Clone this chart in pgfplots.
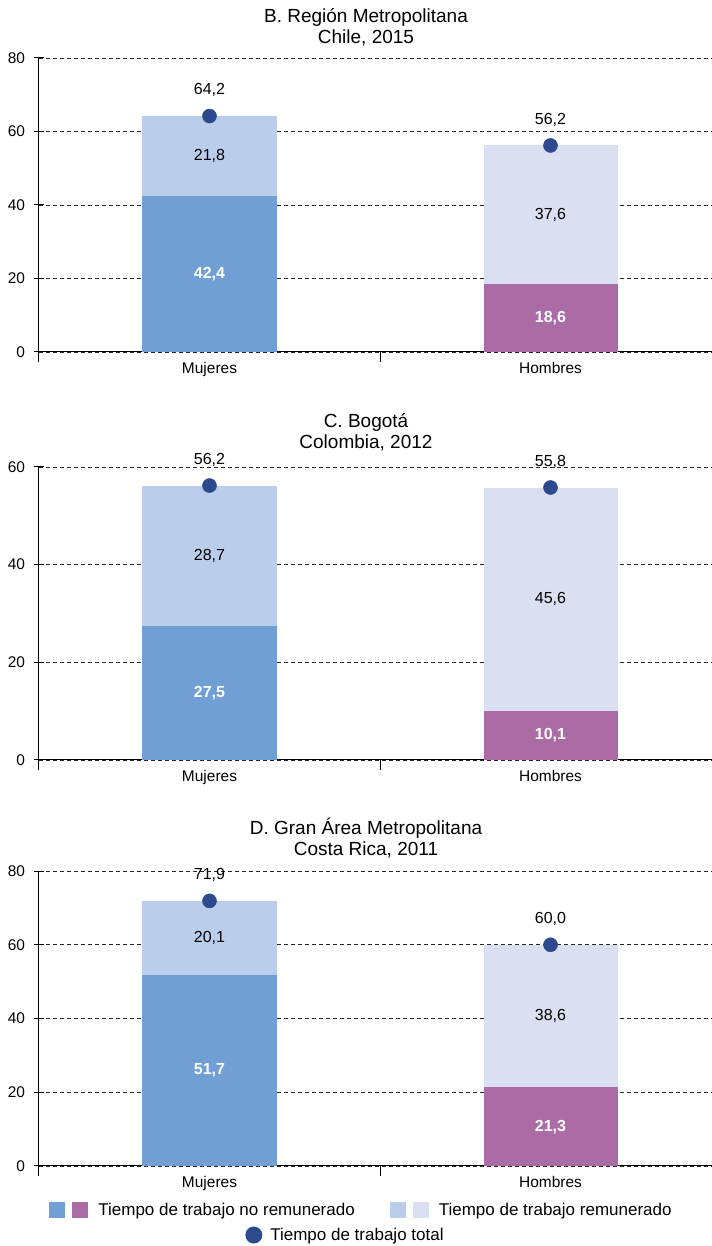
\documentclass[border=0pt]{standalone}
\usepackage{pgfplots}
\pgfplotsset{compat=1.18}
\usepackage{fontspec}
\setmainfont{Liberation Sans}
\definecolor{cMu}{HTML}{6F9FD4}
\definecolor{cHu}{HTML}{AB6CA6}
\definecolor{cMp}{HTML}{BACDEB}
\definecolor{cHp}{HTML}{DAE0F2}
\definecolor{cDot}{HTML}{2E4A8E}
\newcommand{\tickfont}{\fontsize{11.6pt}{13pt}\selectfont}
\newcommand{\valfont}{\fontsize{12pt}{14pt}\selectfont}
\newcommand{\titfont}{\fontsize{14.25pt}{15.75pt}\selectfont}
\newcommand{\legfont}{\fontsize{12.75pt}{15pt}\selectfont}
\tikzset{
  lab/.style={font=\valfont, text=black},
  blab/.style={font=\valfont\bfseries, text=white},
}
\pgfplotsset{
  panel/.style={
    scale only axis, width=511.5pt, anchor=south west,
    xmin=-0.5, xmax=1.5, ymin=0, enlargelimits=false,
    axis x line=bottom, axis y line=left,
    axis line style={-, black, line width=0.75pt},
    xtick={0,1}, xticklabels={Mujeres,Hombres},
    minor xtick={-0.5,0.5,1.5},
    major x tick style={draw=none},
    minor x tick style={black, line width=0.75pt},
    major y tick style={black, line width=0.75pt},
    minor tick length=7.5pt, major tick length=8pt,
    xtick align=outside, ytick align=center,
    ymajorgrids,
    major grid style={black!85, line width=0.6pt, dash pattern=on 3pt off 2.25pt},
    tick label style={font=\tickfont, black},
    yticklabel style={/pgf/number format/assume math mode=true, xshift=-3pt},
    xticklabel style={yshift=3.75pt},
  },
  bars/.style={ybar stacked, bar width=100.5pt},
  dots/.style={only marks, mark=*, mark size=5.25pt, color=cDot, forget plot,
    point meta=y,
    nodes near coords={\pgfmathprintnumber[assume math mode=true,fixed,fixed zerofill,precision=1,use comma]{\pgfplotspointmeta}},
    every node near coord/.append style={text=black, font=\valfont, anchor=center, yshift=19.5pt}},
  legbase/.style={legend style={draw=none, fill=none, inner sep=0pt, font=\legfont,
     /tikz/every even column/.append style={column sep=26.25pt},
     nodes={inner sep=0pt}}},
}
\begin{document}
\begin{tikzpicture}
\useasboundingbox (0,0) rectangle (534pt,934.5pt);

% ---------------- Panel B ----------------
\begin{axis}[panel, bars, at={(29.25pt,670.5pt)}, height=220.5pt, ymax=80, ytick={0,20,40,60,80}]
\addplot[fill=cMu, draw=none, forget plot] coordinates {(0,42.4) (1,0)};
\addplot[fill=cHu, draw=none, forget plot] coordinates {(0,0) (1,18.6)};
\addplot[fill=cMp, draw=none, forget plot] coordinates {(0,21.8) (1,0)};
\addplot[fill=cHp, draw=none, forget plot] coordinates {(0,0) (1,37.6)};
\end{axis}
\begin{axis}[panel, hide axis, clip=false, at={(29.25pt,670.5pt)}, height=220.5pt, ymax=80]
\addplot[dots] coordinates {(0,64.2) (1,56.2)};
\node[blab] at (axis cs:0,21.2) {42,4};
\node[lab]  at (axis cs:0,53.3) {21,8};
\node[blab] at (axis cs:1,9.3) {18,6};
\node[lab]  at (axis cs:1,37.4) {37,6};
\end{axis}

% ---------------- Panel C ----------------
\begin{axis}[panel, bars, at={(29.25pt,364.5pt)}, height=219.75pt, ymax=60, ytick={0,20,40,60}]
\addplot[fill=cMu, draw=none, forget plot] coordinates {(0,27.5) (1,0)};
\addplot[fill=cHu, draw=none, forget plot] coordinates {(0,0) (1,10.1)};
\addplot[fill=cMp, draw=none, forget plot] coordinates {(0,28.7) (1,0)};
\addplot[fill=cHp, draw=none, forget plot] coordinates {(0,0) (1,45.6)};
\end{axis}
\begin{axis}[panel, hide axis, clip=false, at={(29.25pt,364.5pt)}, height=219.75pt, ymax=60]
\addplot[dots] coordinates {(0,56.2) (1,55.8)};
\node[blab] at (axis cs:0,13.75) {27,5};
\node[lab]  at (axis cs:0,41.85) {28,7};
\node[blab] at (axis cs:1,5.05) {10,1};
\node[lab]  at (axis cs:1,32.9) {45,6};
\end{axis}

% ---------------- Panel D ----------------
\begin{axis}[panel, bars, legbase, at={(29.25pt,60pt)}, height=221.25pt, ymax=80, ytick={0,20,40,60,80},
   legend columns=2, legend style={at={(0.4714,-0.149)}, anchor=center}]
\addplot[fill=cMu, draw=none, forget plot] coordinates {(0,51.7) (1,0)};
\addplot[fill=cHu, draw=none, forget plot] coordinates {(0,0) (1,21.3)};
\addplot[fill=cMp, draw=none, forget plot] coordinates {(0,20.1) (1,0)};
\addplot[fill=cHp, draw=none, forget plot] coordinates {(0,0) (1,38.6)};
\addlegendimage{legend image code/.code={
  \fill[cMu, draw=none] (0pt,-6pt) rectangle (12pt,6pt);
  \fill[cHu, draw=none] (17.25pt,-6pt) rectangle (29.25pt,6pt);
  \path[draw=none, fill=none] (0pt,0pt) -- (36.75pt,0pt);}}
\addlegendentry{Tiempo de trabajo no remunerado}
\addlegendimage{legend image code/.code={
  \fill[cMp, draw=none] (0pt,-6pt) rectangle (12pt,6pt);
  \fill[cHp, draw=none] (17.25pt,-6pt) rectangle (29.25pt,6pt);
  \path[draw=none, fill=none] (0pt,0pt) -- (36.75pt,0pt);}}
\addlegendentry{Tiempo de trabajo remunerado}
\end{axis}
\begin{axis}[panel, hide axis, clip=false, legbase, at={(29.25pt,60pt)}, height=221.25pt, ymax=80,
   legend style={at={(0.4479,-0.234)}, anchor=center}]
\addplot[dots] coordinates {(0,71.9) (1,60.0)};
\node[blab] at (axis cs:0,25.85) {51,7};
\node[lab]  at (axis cs:0,61.75) {20,1};
\node[blab] at (axis cs:1,10.65) {21,3};
\node[lab]  at (axis cs:1,40.6) {38,6};
\addlegendimage{legend image code/.code={
  \fill[cDot, draw=none] (6.375pt,0pt) circle (6.375pt);
  \path[draw=none, fill=none] (0pt,0pt) -- (18.75pt,0pt);}}
\addlegendentry{Tiempo de trabajo total}
\end{axis}

% titles
\node[align=center, font=\titfont] at (274.5pt,913.9pt) {B. Región Metropolitana\\Chile, 2015};
\node[align=center, font=\titfont] at (274.5pt,610.1pt) {C. Bogotá\\Colombia, 2012};
\node[align=center, font=\titfont] at (274.5pt,306pt) {D. Gran Área Metropolitana\\Costa Rica, 2011};
\end{tikzpicture}
\end{document}
